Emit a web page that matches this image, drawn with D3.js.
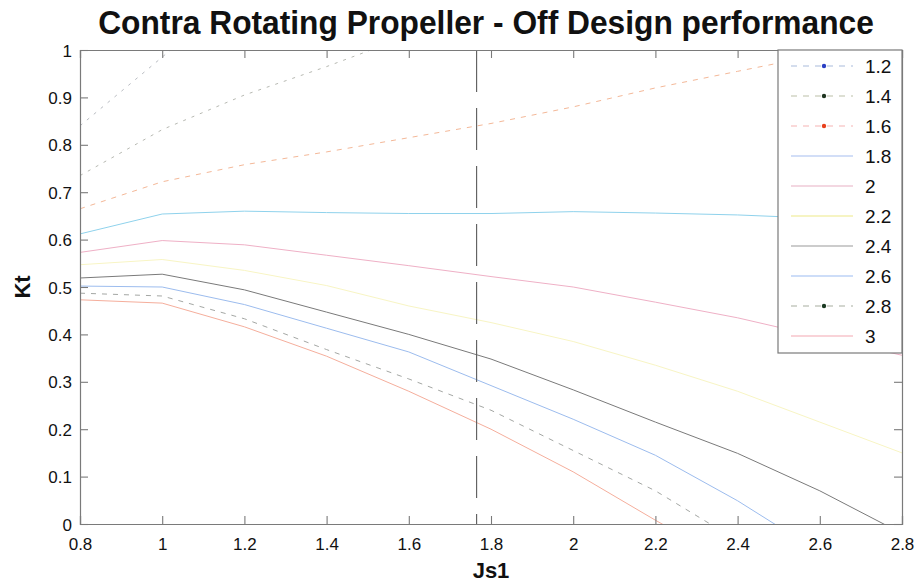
<!DOCTYPE html>
<html>
<head>
<meta charset="utf-8">
<script src="https://cdn.jsdelivr.net/npm/d3@7"></script>
<style>
  html, body { margin: 0; padding: 0; background: #fff; }
  svg { display: block; font-family: "Liberation Sans", Arial, sans-serif; }
</style>
</head>
<body>
<svg id="chart" width="922" height="586"></svg>
<script>
// Advance ratio of the forward propeller (Js1)
const js1 = [0.8, 1.0, 1.2, 1.4, 1.6, 1.8, 2.0, 2.2, 2.4, 2.6, 2.8];

// Thrust coefficient for each off-design curve (null = not computed)
const kt_1_2 = [0.840, 0.985, 1.130, null, null, null, null, null, null, null, null];
const kt_1_4 = [0.735, 0.832, 0.905, 0.965, 1.030, null, null, null, null, null, null];
const kt_1_6 = [0.665, 0.722, 0.758, 0.785, 0.815, 0.845, 0.880, 0.920, 0.955, 0.990, 1.020];
const kt_1_8 = [0.612, 0.654, 0.660, 0.657, 0.655, 0.655, 0.659, 0.656, 0.652, 0.645, 0.640];
const kt_2_0 = [0.573, 0.598, 0.589, 0.567, 0.545, 0.522, 0.500, 0.468, 0.435, 0.395, 0.356];
const kt_2_2 = [0.547, 0.558, 0.535, 0.503, 0.460, 0.425, 0.385, 0.335, 0.280, 0.215, 0.150];
const kt_2_4 = [0.519, 0.527, 0.494, 0.447, 0.400, 0.348, 0.283, 0.215, 0.149, 0.070, -0.020];
const kt_2_6 = [0.502, 0.500, 0.463, 0.413, 0.363, 0.292, 0.221, 0.145, 0.049, -0.060, null];
const kt_2_8 = [0.487, 0.481, 0.433, 0.368, 0.306, 0.240, 0.155, 0.070, -0.035, null, null];
const kt_3_0 = [0.473, 0.466, 0.416, 0.354, 0.280, 0.200, 0.110, 0.008, -0.090, null, null];

const seriesLabels = ["1.2", "1.4", "1.6", "1.8", "2", "2.2", "2.4", "2.6", "2.8", "3"];
const seriesValues = [kt_1_2, kt_1_4, kt_1_6, kt_1_8, kt_2_0, kt_2_2, kt_2_4, kt_2_6, kt_2_8, kt_3_0];

// Design point marker
const designJs1 = 1.765;

const xTicks = [0.8, 1, 1.2, 1.4, 1.6, 1.8, 2, 2.2, 2.4, 2.6, 2.8];
const yTicks = [0, 0.1, 0.2, 0.3, 0.4, 0.5, 0.6, 0.7, 0.8, 0.9, 1];

const titleText = "Contra Rotating Propeller - Off Design performance";
const xLabel = "Js1";
const yLabel = "Kt";

// Line styles per curve
const styles = [
  { stroke: "#b9bcc2", dash: "3,6", legendStroke: "#a9bbdc", marker: "#2a3fc4" },
  { stroke: "#b7b9b2", dash: "3,6", legendStroke: "#bcc0a8", marker: "#1f3520" },
  { stroke: "#f4b898", dash: "5,6", legendStroke: "#f6b4b4", marker: "#e8401c" },
  { stroke: "#8fd2ec", dash: null,  legendStroke: "#a6bef0", marker: null },
  { stroke: "#efb0c6", dash: null,  legendStroke: "#e8b0c4", marker: null },
  { stroke: "#f8f5c4", dash: null,  legendStroke: "#eeea88", marker: null },
  { stroke: "#7a7a7a", dash: null,  legendStroke: "#9a9a9a", marker: null },
  { stroke: "#9cbcee", dash: null,  legendStroke: "#9cbcf2", marker: null },
  { stroke: "#a4a7a4", dash: "5,6", legendStroke: "#a8ad9f", marker: "#1b3a22" },
  { stroke: "#f5ae9c", dash: null,  legendStroke: "#f4a8b2", marker: null }
];

const svg = d3.select("#chart");
const margin = { left: 80, right: 20, top: 50, bottom: 62 };
const width = 922, height = 586;

const x = d3.scaleLinear().domain([0.8, 2.8]).range([margin.left, width - margin.right]);
const y = d3.scaleLinear().domain([0, 1]).range([height - margin.bottom, margin.top]);

svg.append("defs").append("clipPath").attr("id", "plotClip")
  .append("rect")
  .attr("x", x(0.8)).attr("y", y(1))
  .attr("width", x(2.8) - x(0.8)).attr("height", y(0) - y(1));

// Curves
const line = d3.line()
  .defined(d => d[1] !== null)
  .x(d => x(d[0]))
  .y(d => y(d[1]));

const curves = svg.append("g").attr("clip-path", "url(#plotClip)");
seriesValues.forEach((vals, i) => {
  const pts = js1.map((j, k) => [j, vals[k]]);
  curves.append("path")
    .attr("d", line(pts))
    .attr("fill", "none")
    .attr("stroke", styles[i].stroke)
    .attr("stroke-width", 1)
    .attr("stroke-dasharray", styles[i].dash);
});

// Design point vertical dash-dot line
curves.append("line")
  .attr("x1", x(designJs1)).attr("x2", x(designJs1))
  .attr("y1", y(1)).attr("y2", y(0))
  .attr("stroke", "#5a5a5a")
  .attr("stroke-width", 1.1)
  .attr("stroke-dasharray", "42,16");

// Axes: ticks drawn inward on all four sides
const tickLen = 8;
const axisColor = "#7a7a7a";
const axisBottomG = svg.append("g").attr("transform", `translate(0,${y(0)})`)
  .call(d3.axisBottom(x).tickValues(xTicks).tickSize(-tickLen).tickPadding(14)
    .tickFormat(d3.format("~g")));
const axisTopG = svg.append("g").attr("transform", `translate(0,${y(1)})`)
  .call(d3.axisTop(x).tickValues(xTicks).tickSize(-tickLen).tickFormat(""));
const axisLeftG = svg.append("g").attr("transform", `translate(${x(0.8)},0)`)
  .call(d3.axisLeft(y).tickValues(yTicks).tickSize(-tickLen).tickPadding(8)
    .tickFormat(d3.format("~g")));
const axisRightG = svg.append("g").attr("transform", `translate(${x(2.8)},0)`)
  .call(d3.axisRight(y).tickValues(yTicks).tickSize(-tickLen).tickFormat(""));

[axisBottomG, axisTopG, axisLeftG, axisRightG].forEach(g => {
  g.select(".domain").attr("stroke", axisColor).attr("stroke-width", 1.2);
  g.selectAll(".tick line").attr("stroke", axisColor).attr("stroke-width", 1.1);
  g.selectAll(".tick text")
    .attr("fill", "#111")
    .style("font-family", "'Liberation Sans', Arial, sans-serif")
    .style("font-size", "17px");
});
axisLeftG.selectAll(".tick text").attr("dy", "0.36em");

// Legend
const legX = 778, legY = y(1), legW = x(2.8) - 778, legRow = 30;
const legend = svg.append("g");
legend.append("rect")
  .attr("x", legX).attr("y", legY)
  .attr("width", legW).attr("height", 303)
  .attr("fill", "#fff").attr("stroke", axisColor).attr("stroke-width", 1.2);

seriesLabels.forEach((lab, i) => {
  const cy = legY + 16 + i * legRow;
  const st = styles[i];
  legend.append("line")
    .attr("x1", legX + 13).attr("x2", legX + 75)
    .attr("y1", cy).attr("y2", cy)
    .attr("stroke", st.legendStroke)
    .attr("stroke-width", 1.2)
    .attr("stroke-dasharray", st.dash ? "6,6" : null);
  if (st.marker) {
    legend.append("circle")
      .attr("cx", legX + 46).attr("cy", cy)
      .attr("r", 2.2).attr("fill", st.marker);
  }
  legend.append("text")
    .attr("x", legX + 87).attr("y", cy)
    .attr("dy", "0.36em")
    .attr("fill", "#111")
    .style("font-size", "19px")
    .text(lab);
});

// Title: bold face squeezed horizontally into a condensed look
const titleG = svg.append("g");
const title = titleG.append("text")
  .attr("x", 0).attr("y", 0)
  .attr("text-anchor", "middle")
  .attr("fill", "#111")
  .style("font-family", "'Liberation Sans', Arial, sans-serif")
  .style("font-weight", "bold")
  .style("font-size", "34px")
  .text(titleText);
const titleW = title.node().getComputedTextLength();
titleG.attr("transform", `translate(486,34) scale(${776 / titleW},1)`);

svg.append("text")
  .attr("x", 491).attr("y", 578)
  .attr("text-anchor", "middle")
  .attr("fill", "#111")
  .style("font-weight", "bold")
  .style("font-size", "22px")
  .text(xLabel);

svg.append("text")
  .attr("transform", `translate(30,${(y(0) + y(1)) / 2}) rotate(-90)`)
  .attr("text-anchor", "middle")
  .attr("fill", "#111")
  .style("font-weight", "bold")
  .style("font-size", "22px")
  .text(yLabel);
</script>
</body>
</html>
